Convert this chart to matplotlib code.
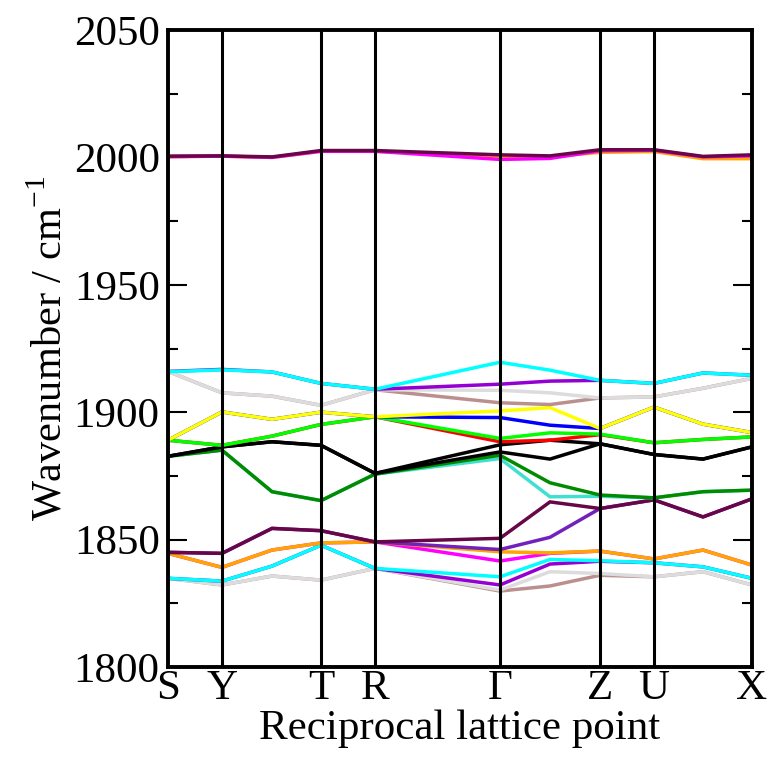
import numpy as np
import matplotlib
matplotlib.use("Agg")
import matplotlib.pyplot as plt

plt.rcParams['font.family'] = ['Liberation Serif', 'DejaVu Serif']
plt.rcParams['mathtext.fontset'] = 'custom'
plt.rcParams['mathtext.rm'] = 'Liberation Serif'

# path positions: S, Y, (mid), T, R, G, (mid), Z, U, (mid), X
kpath = [0, 54, 104, 153, 207, 332, 382, 432, 486, 535, 584]
kpoint_pos = [0, 54, 153, 207, 332, 432, 486, 584]
kpoint_labels = ['S', 'Y', 'T', 'R', '\u0393', 'Z', 'U', 'X']

# bands near 2000
orange_top = [2000.3, 2000.5, 2000.0, 2002.4, 2002.4, 2000.5, 2000.2, 2002.0, 2002.3, 1999.5, 1999.5]
magenta_top = [2000.3, 2000.5, 2000.0, 2002.4, 2002.4, 1999.2, 1999.6, 2002.6, 2002.8, 2000.2, 2000.6]
maroon_top = [2000.5, 2000.6, 2000.2, 2002.7, 2002.7, 2001.0, 2000.6, 2003.0, 2003.0, 2000.4, 2001.0]

# bands near 1900
brown_up = [1916.0, 1907.6, 1906.3, 1902.7, 1908.8, 1903.7, 1903.0, 1905.6, 1906.0, 1909.4, 1913.3]
grey_up = [1916.0, 1907.6, 1906.3, 1902.7, 1908.8, 1908.6, 1907.6, 1905.6, 1906.0, 1909.4, 1913.3]
violet_up = [1916.0, 1916.8, 1915.8, 1911.3, 1909.0, 1911.0, 1912.2, 1912.5, 1911.3, 1915.4, 1914.5]
cyan_up = [1915.9, 1916.6, 1915.8, 1911.3, 1909.0, 1919.6, 1916.5, 1912.5, 1911.3, 1915.4, 1914.5]
blue = [1889.0, 1900.1, 1897.2, 1900.0, 1898.2, 1897.9, 1894.9, 1893.6, 1902.0, 1895.3, 1892.0]
yellow = [1889.0, 1900.1, 1897.2, 1900.0, 1898.2, 1900.5, 1901.8, 1893.6, 1902.0, 1895.3, 1892.0]
red = [1889.0, 1887.0, 1890.6, 1895.2, 1898.2, 1888.4, 1889.0, 1891.2, 1888.0, 1889.3, 1890.3]
green = [1889.0, 1887.0, 1890.6, 1895.2, 1898.2, 1889.7, 1891.9, 1891.4, 1888.0, 1889.3, 1890.3]
black1 = [1882.7, 1886.4, 1888.4, 1887.0, 1876.0, 1884.4, 1881.6, 1887.6, 1883.4, 1881.6, 1886.4]
black2 = [1882.7, 1886.4, 1888.4, 1887.0, 1876.0, 1887.2, 1889.0, 1887.6, 1883.4, 1881.6, 1886.4]
turquoise = [1882.7, 1885.1, 1868.8, 1865.3, 1875.7, 1881.8, 1866.8, 1867.0, 1866.4, 1868.8, 1869.4]
green4 = [1882.7, 1885.1, 1868.8, 1865.3, 1875.7, 1883.1, 1872.3, 1867.5, 1866.4, 1868.8, 1869.4]

# bands near 1840
indigo = [1845.0, 1844.6, 1854.4, 1853.5, 1849.1, 1846.1, 1850.9, 1862.2, 1865.6, 1858.9, 1866.0]
maroon_low = [1845.0, 1844.6, 1854.4, 1853.5, 1849.1, 1850.5, 1864.8, 1862.2, 1865.6, 1858.9, 1866.0]
magenta_low = [1844.6, 1839.1, 1845.9, 1848.7, 1849.1, 1841.6, 1844.6, 1845.5, 1842.4, 1845.9, 1840.0]
orange_low = [1844.6, 1839.1, 1845.9, 1848.7, 1849.1, 1845.2, 1844.8, 1845.5, 1842.4, 1845.9, 1840.0]
violet_low = [1834.8, 1833.7, 1839.6, 1847.8, 1838.7, 1832.2, 1840.4, 1841.5, 1840.9, 1839.3, 1834.8]
cyan_low = [1834.8, 1833.7, 1839.6, 1847.8, 1838.7, 1835.4, 1842.2, 1841.7, 1840.9, 1839.3, 1834.8]
brown_low = [1834.8, 1832.2, 1835.7, 1834.1, 1838.7, 1829.8, 1831.8, 1836.0, 1835.4, 1837.4, 1832.2]
grey_low = [1834.8, 1832.2, 1835.7, 1834.1, 1838.7, 1830.2, 1837.4, 1836.7, 1835.4, 1837.4, 1832.2]

# grace palette
bands = [
    (brown_low, '#bc8f8f'), (grey_low, '#dcdcdc'),
    (violet_low, '#9400d3'), (cyan_low, '#00ffff'),
    (magenta_low, '#ff00ff'), (orange_low, '#ffa500'),
    (indigo, '#7221bc'), (maroon_low, '#670748'),
    (turquoise, '#40e0d0'), (green4, '#008b00'),
    (black1, '#000000'), (black2, '#000000'),
    (red, '#ff0000'), (green, '#00ff00'),
    (blue, '#0000ff'), (yellow, '#ffff00'),
    (brown_up, '#bc8f8f'), (grey_up, '#dcdcdc'),
    (violet_up, '#9400d3'), (cyan_up, '#00ffff'),
    (orange_top, '#ffa500'), (magenta_top, '#ff00ff'), (maroon_top, '#670748'),
]

fig = plt.figure(figsize=(7.77, 7.60), dpi=100)
ax = fig.add_axes([168 / 777, 1 - 667 / 760, 584 / 777, 637 / 760])

for vals, col in bands:
    ax.plot(kpath, vals, color=col, lw=2.5, solid_joinstyle='miter')

for xp in kpoint_pos[1:-1]:
    ax.axvline(xp, color='black', lw=2.2, zorder=3)

ax.set_xlim(kpath[0], kpath[-1])
ax.set_ylim(1800, 2050)
ax.set_yticks(np.arange(1800, 2051, 50))
ax.set_yticks(np.arange(1825, 2050, 50), minor=True)
ax.set_xticks(kpoint_pos)
ax.set_xticklabels(kpoint_labels)
ax.tick_params(axis='y', which='major', direction='in', length=14, width=1.5,
               left=True, right=True, labelsize=31, pad=6)
ax.tick_params(axis='y', which='minor', direction='in', length=7, width=1.5,
               left=True, right=True)
ax.tick_params(axis='x', length=0, labelsize=31, pad=2)
for sp in ax.spines.values():
    sp.set_linewidth(2.8)

ax.set_xlabel('Reciprocal lattice point', fontsize=31, labelpad=1)
ax.set_ylabel('Wavenumber / cm$^{\\mathregular{-1}}$', fontsize=30.5, labelpad=2)

fig.savefig('out.png', dpi=100)
